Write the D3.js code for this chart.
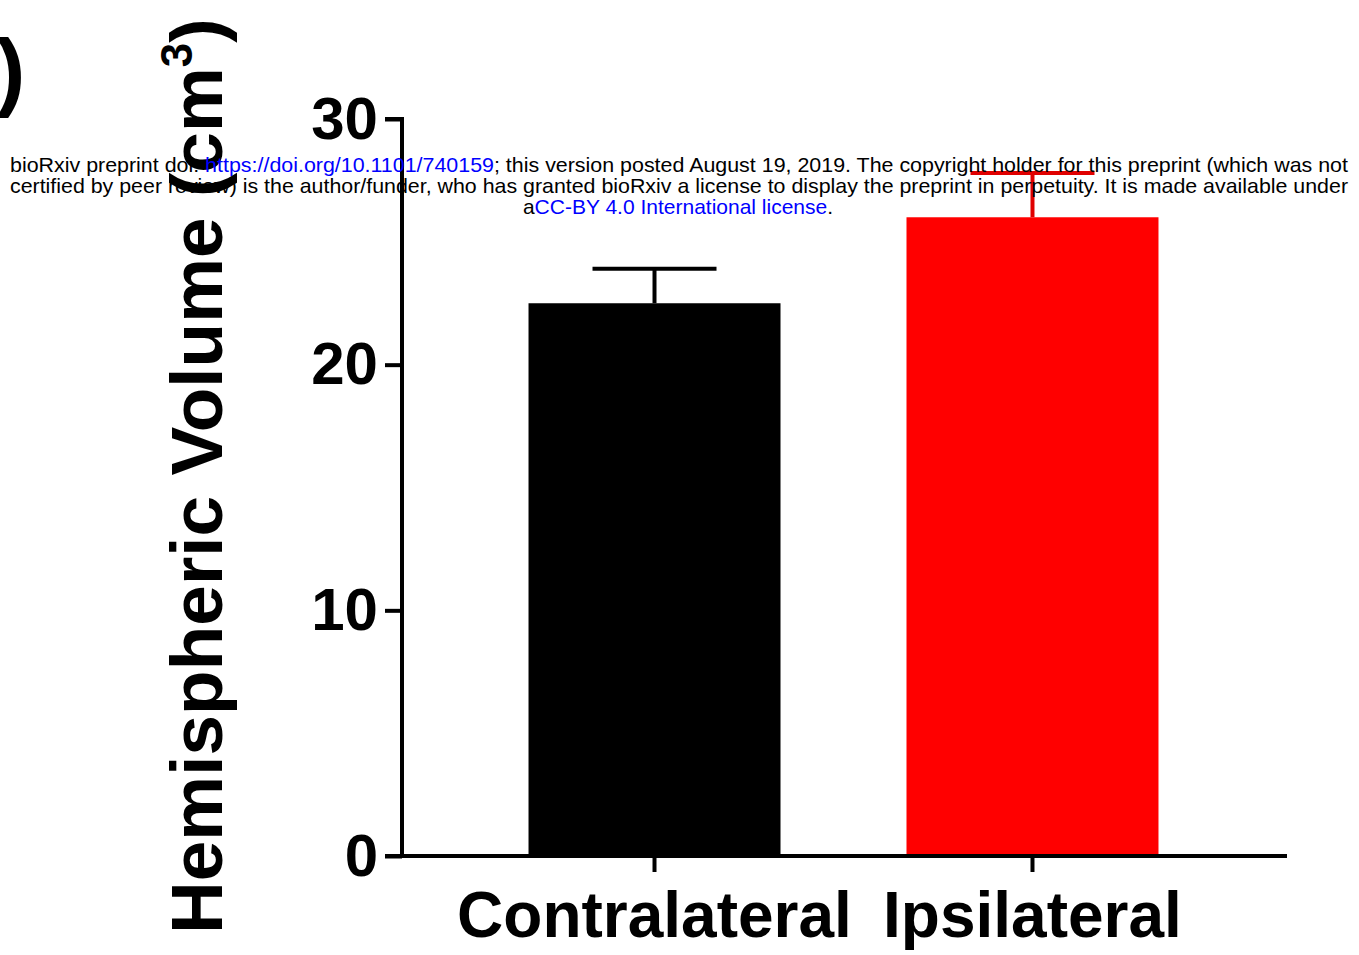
<!DOCTYPE html>
<html>
<head>
<meta charset="utf-8">
<script src="https://cdn.jsdelivr.net/npm/d3@7"></script>
<style>
  body { margin: 0; background: #fff; }
  svg { display: block; }
</style>
</head>
<body>
<div id="chart"></div>
<script>
var categories = ["Contralateral", "Ipsilateral"];
var means = [22.5, 26.0];
var errors = [1.4, 1.8];
var barColors = ["#000000", "#ff0000"];
var yTicks = [0, 10, 20, 30];
var yLabel = "Hemispheric Volume (cm";

var width = 1359, height = 955;
var svg = d3.select("#chart").append("svg").attr("width", width).attr("height", height);

// scales
var y = d3.scaleLinear().domain([0, 30]).range([856, 119]);
var x = d3.scaleBand().domain(categories).range([400, 1287]).paddingInner(1 / 3).paddingOuter(0.34);

var chart = svg.append("g").attr("font-family", "Liberation Sans, Arial, sans-serif");

// bars
chart.selectAll("rect.bar")
    .data(categories)
    .enter().append("rect")
    .attr("class", "bar")
    .attr("x", function(d) { return x(d); })
    .attr("y", function(d, i) { return y(means[i]); })
    .attr("width", x.bandwidth())
    .attr("height", function(d, i) { return y(0) - y(means[i]); })
    .attr("fill", function(d, i) { return barColors[i]; });

// error bars (upper only)
var err = chart.selectAll("g.err")
    .data(categories)
    .enter().append("g")
    .attr("class", "err")
    .attr("stroke", function(d, i) { return barColors[i] === "#ff0000" ? "#e00000" : "#000"; })
    .attr("stroke-width", 4);
err.append("line")
    .attr("x1", function(d) { return x(d) + x.bandwidth() / 2; })
    .attr("x2", function(d) { return x(d) + x.bandwidth() / 2; })
    .attr("y1", function(d, i) { return y(means[i]); })
    .attr("y2", function(d, i) { return y(means[i] + errors[i]); });
err.append("line")
    .attr("x1", function(d) { return x(d) + x.bandwidth() / 2 - 62; })
    .attr("x2", function(d) { return x(d) + x.bandwidth() / 2 + 62; })
    .attr("y1", function(d, i) { return y(means[i] + errors[i]); })
    .attr("y2", function(d, i) { return y(means[i] + errors[i]); });

// y axis
var yAxis = chart.append("g")
    .attr("transform", "translate(402,0)")
    .call(d3.axisLeft(y).tickValues(yTicks).tickSize(17).tickPadding(7));
yAxis.select(".domain").attr("d", "M-17," + y(30) + "H0V" + y(0));
yAxis.selectAll("line, path").attr("stroke", "#000").attr("stroke-width", 4);
yAxis.selectAll("text")
    .attr("font-size", 60).attr("font-weight", "bold").attr("fill", "#000")
    .attr("font-family", "Liberation Sans, Arial, sans-serif");

// x axis
var xAxis = chart.append("g")
    .attr("transform", "translate(0,856)")
    .call(d3.axisBottom(x).tickSize(16).tickPadding(20));
xAxis.select(".domain").attr("d", "M385,0H1287");
xAxis.selectAll("line, path").attr("stroke", "#000").attr("stroke-width", 4);
xAxis.selectAll("text")
    .attr("font-size", 64).attr("font-weight", "bold").attr("fill", "#000")
    .attr("font-family", "Liberation Sans, Arial, sans-serif");

// y label
var yl = chart.append("text")
    .attr("transform", "translate(222,934) rotate(-90)")
    .attr("font-size", 73).attr("font-weight", "bold").attr("fill", "#000");
yl.append("tspan").text(yLabel);
yl.append("tspan").attr("font-size", 44).attr("dy", -30).text("3");
yl.append("tspan").attr("dy", 30).text(")");

// leftover parenthesis from neighbouring panel
svg.append("text")
    .attr("x", -4).attr("y", 100)
    .attr("font-family", "Liberation Sans, Arial, sans-serif")
    .attr("font-size", 88).attr("font-weight", "bold")
    .text(")");

// bioRxiv header
var hdr = svg.append("g")
    .attr("font-family", "Liberation Sans, Arial, sans-serif")
    .attr("font-size", 21).attr("fill", "#000");
var l1 = hdr.append("text").attr("x", 10).attr("y", 172)
    .attr("textLength", 1338).attr("lengthAdjust", "spacingAndGlyphs");
l1.append("tspan").text("bioRxiv preprint doi: ");
l1.append("tspan").attr("fill", "#0000ff").text("https://doi.org/10.1101/740159");
l1.append("tspan").text("; this version posted August 19, 2019. The copyright holder for this preprint (which was not");
hdr.append("text").attr("x", 10).attr("y", 193)
    .attr("textLength", 1338).attr("lengthAdjust", "spacingAndGlyphs")
    .text("certified by peer review) is the author/funder, who has granted bioRxiv a license to display the preprint in perpetuity. It is made available under");
var l3 = hdr.append("text").attr("x", 678).attr("y", 214).attr("text-anchor", "middle");
l3.append("tspan").text("a");
l3.append("tspan").attr("fill", "#0000ff").text("CC-BY 4.0 International license");
l3.append("tspan").text(".");
</script>
</body>
</html>
